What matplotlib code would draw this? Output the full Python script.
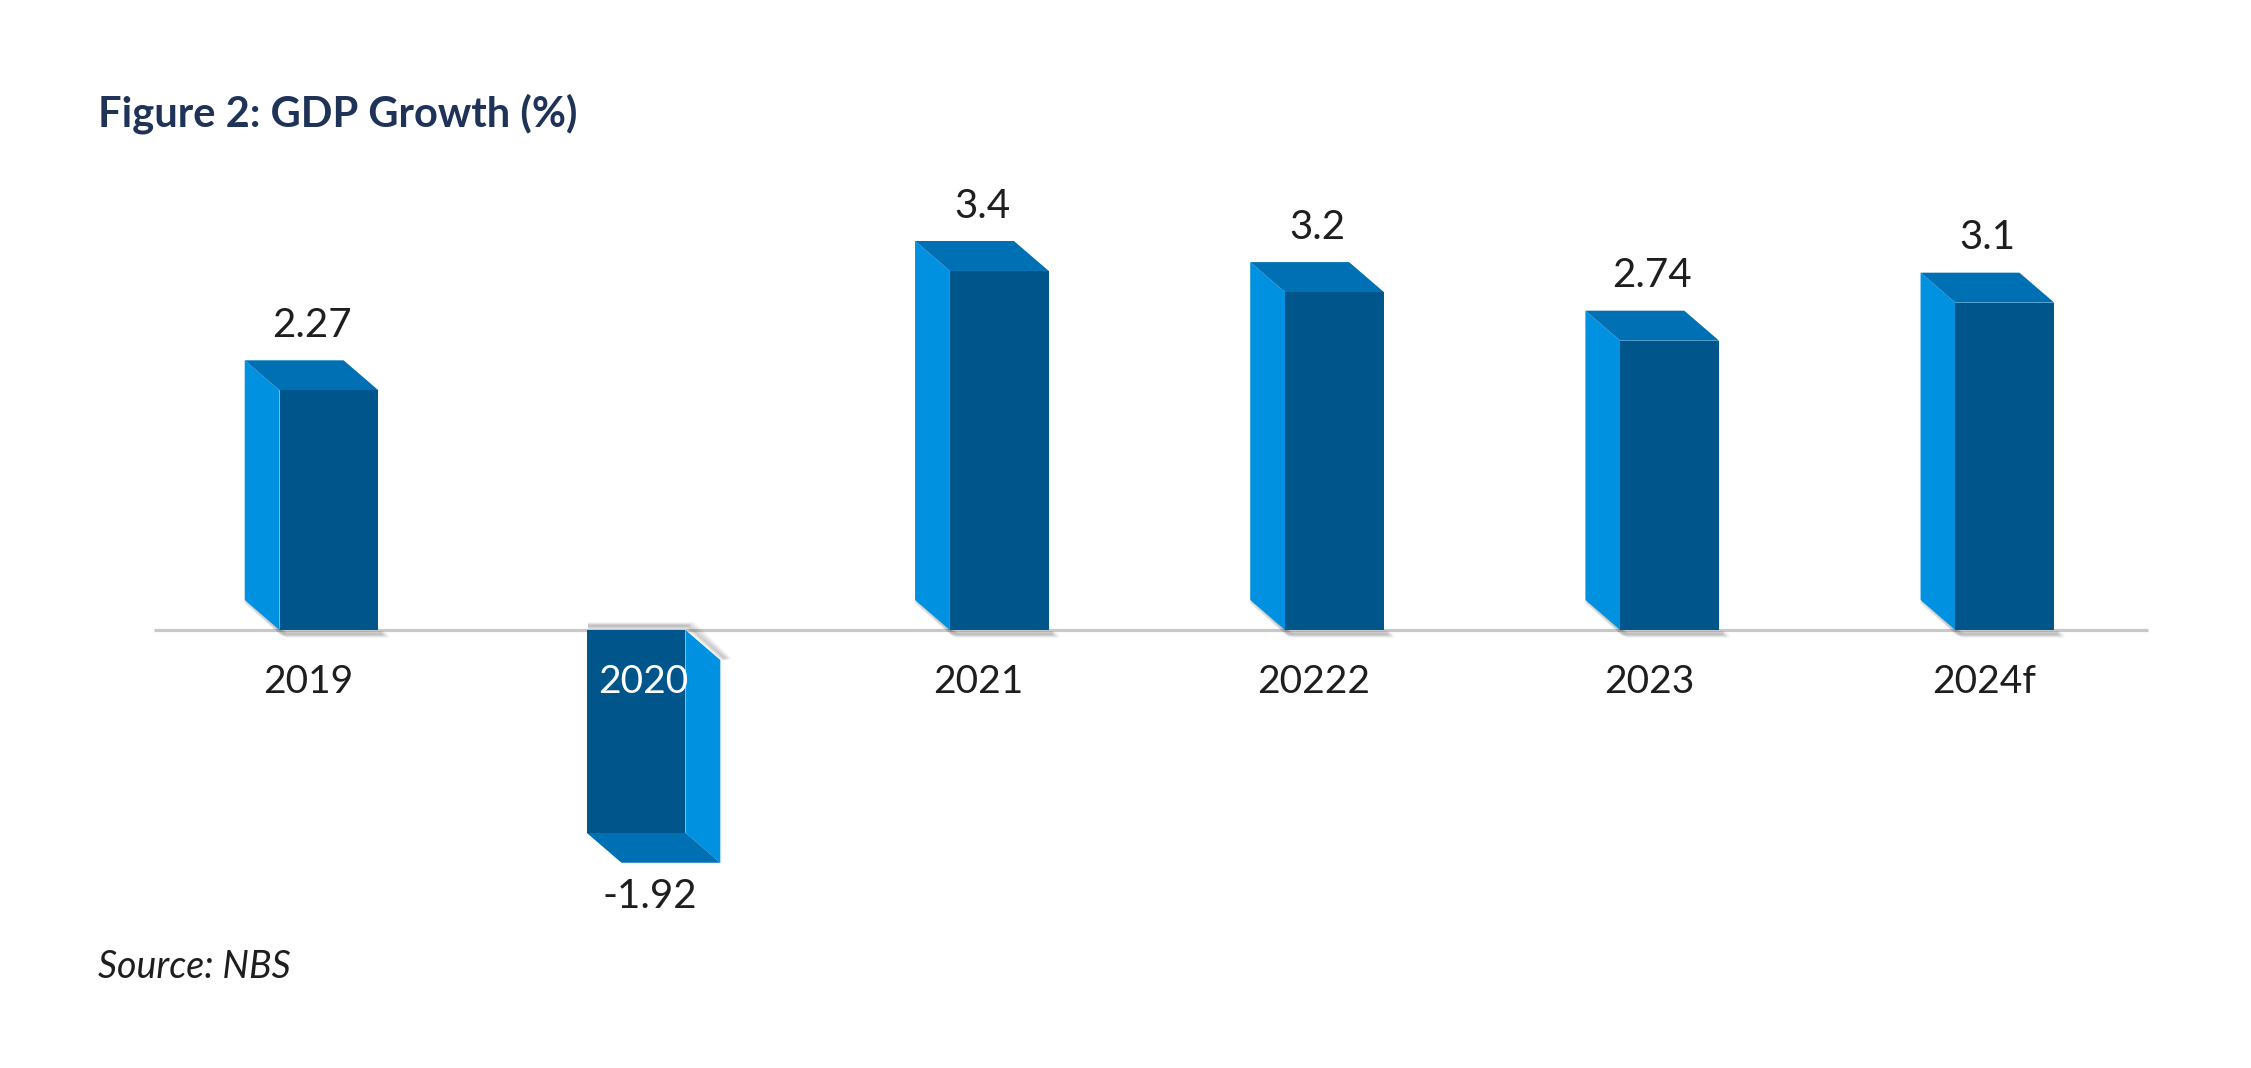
import matplotlib
matplotlib.use('Agg')
import matplotlib.pyplot as plt
from matplotlib.patches import Polygon

# datos
anios = ['2019', '2020', '2021', '20222', '2023', '2024f']
crecimiento = [2.27, -1.92, 3.4, 3.2, 2.74, 3.1]
etiquetas = ['2.27', '-1.92', '3.4', '3.2', '2.74', '3.1']

# colores
c_frente = '#00558A'
c_lado = '#0091E1'
c_tapa = '#0070B4'
c_texto = '#1E1E1E'
c_titulo = '#1F3359'

plt.rcParams['font.family'] = ['Lato', 'DejaVu Sans']

fig = plt.figure(figsize=(22.51, 10.68), dpi=100)
W, H = 2251, 1068
ax = fig.add_axes([144 / W, 174 / H, 2011 / W, 707.5 / H])
ax.set_xlim(-0.5, 5.5)
ax.set_ylim(-2.5, 4.2)
ax.axis('off')

# geometria de la barra 3d (en unidades de datos)
ancho = 0.295   # cara frontal
dx = 0.104      # profundidad en x
dy = 0.284      # profundidad en y
total = ancho + dx

# eje en cero
ax.plot([-0.47, 5.48], [0, 0], color='#C8C8C8', lw=2.3, zorder=1, solid_capstyle='butt')


def barra3d(c, v):
    if v >= 0:
        izq = c - total / 2
        der = c + total / 2
        f0, f1 = izq + dx, der
        frente = [(f0, 0), (f1, 0), (f1, v), (f0, v)]
        lado = [(izq, dy), (f0, 0), (f0, v), (izq, v + dy)]
        tapa = [(izq, v + dy), (f0, v), (f1, v), (f1 - dx, v + dy)]
        # sombra
        for k, a in enumerate([0.10, 0.08, 0.06, 0.04]):
            o = 0.006 * (k + 1)
            ax.plot([izq + o, f0 + o, f1 + o], [dy - 0.02, -0.02 - o * 1.5, -0.02 - o * 1.5],
                    color='black', alpha=a, lw=3, zorder=2)
    else:
        # la barra negativa va un poco corrida a la derecha
        izq = c - total / 2 + 0.02
        der = c + total / 2 + 0.02
        f0, f1 = izq, der - dx
        frente = [(f0, 0), (f1, 0), (f1, v), (f0, v)]
        lado = [(f1, 0), (der, -dy), (der, v - dy), (f1, v)]
        tapa = [(f0, v), (f1, v), (der, v - dy), (f0 + dx, v - dy)]
        for k, a in enumerate([0.10, 0.08, 0.06, 0.04]):
            o = 0.006 * (k + 1)
            ax.plot([f0 + 0.01, f1 + o, der + o], [0.02 + o * 1.5, 0.02 + o * 1.5, -dy + 0.02],
                    color='black', alpha=a, lw=3, zorder=2)
    ax.add_patch(Polygon(lado, closed=True, fc=c_lado, ec='none', zorder=3))
    ax.add_patch(Polygon(tapa, closed=True, fc=c_tapa, ec='none', zorder=3))
    ax.add_patch(Polygon(frente, closed=True, fc=c_frente, ec='none', zorder=4))


for i, v in enumerate(crecimiento):
    barra3d(i, v)
    if v >= 0:
        ax.annotate(etiquetas[i], (i, v + dy), xytext=(0, 25), textcoords='offset points',
                    ha='center', va='center', fontsize=29, color=c_texto, zorder=6)
        col = c_texto
    else:
        ax.annotate(etiquetas[i], (i + 0.01, v - dy), xytext=(0, -24.5), textcoords='offset points',
                    ha='center', va='center', fontsize=29, color=c_texto, zorder=6)
        col = 'white'
    ax.annotate(anios[i], (i - 0.01, 0), xytext=(0, -37.5), textcoords='offset points',
                ha='center', va='center', fontsize=28, color=col, zorder=6)

fig.text(98 / W, 1 - 126 / H, 'Figure 2: GDP Growth (%)', fontsize=30, fontweight='bold',
         color=c_titulo, ha='left', va='baseline')
fig.text(98 / W, 1 - 978 / H, 'Source: NBS', fontsize=27, fontstyle='italic',
         color=c_texto, ha='left', va='baseline')

fig.savefig('out.png', dpi=100, facecolor='white')
